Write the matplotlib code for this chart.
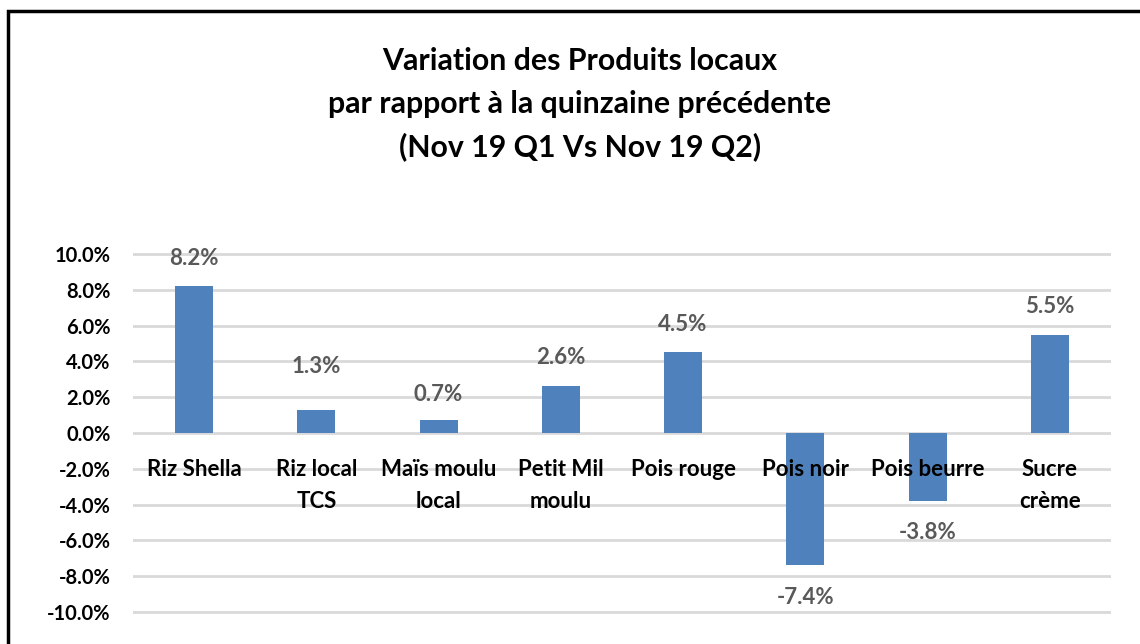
import matplotlib.pyplot as plt
import matplotlib.patches as patches
from matplotlib.ticker import FuncFormatter

categories = ["Riz Shella", "Riz local\nTCS", "Maïs moulu\nlocal", "Petit Mil\nmoulu",
              "Pois rouge", "Pois noir", "Pois beurre", "Sucre\ncrème"]
values = [8.2, 1.3, 0.7, 2.6, 4.5, -7.4, -3.8, 5.5]
yticks = [-10, -8, -6, -4, -2, 0, 2, 4, 6, 8, 10]
title_lines = ["Variation des Produits locaux",
               "par rapport à la quinzaine précédente",
               "(Nov 19 Q1 Vs Nov 19 Q2)"]

plt.rcParams["font.family"] = ["Lato", "DejaVu Sans"]
plt.rcParams["font.weight"] = "bold"

W, H = 1140, 644
fig = plt.figure(figsize=(W / 100, H / 100), dpi=100)

# frame: left and top edge visible, rest cut off by the image
fig.patches.append(patches.Rectangle((8.0 / W, -0.2), 2, 1.2 - 11.5 / H,
                                     transform=fig.transFigure, fill=False,
                                     edgecolor="black", linewidth=2.5))

ppu = 17.9  # pixels per percent
lim = 10.3
bottom_px = 612 + (lim - 10) * ppu
top_px = 254 - (lim - 10) * ppu
ax = fig.add_axes([133 / W, 1 - bottom_px / H, 978 / W, (bottom_px - top_px) / H])

x = list(range(len(categories)))
ax.bar(x, values, width=0.31, color="#4F81BD", zorder=3)
ax.set_xlim(-0.5, len(categories) - 0.5)
ax.set_ylim(-lim, lim)
ax.set_yticks(yticks)
ax.yaxis.set_major_formatter(FuncFormatter(lambda v, p: f"{v:.1f}%"))
ax.tick_params(axis="y", length=0, pad=16, labelsize=14.5, labelcolor="black")
ax.set_xticks([])
ax.grid(axis="y", color="#D9D9D9", linewidth=2, zorder=0)
for s in ax.spines.values():
    s.set_visible(False)

# category labels drawn next to the zero line
for xi, name in zip(x, categories):
    ax.annotate(name, (xi, 0), xytext=(0, -19), textcoords="offset points",
                ha="center", va="top", fontsize=16, color="black",
                linespacing=1.6, zorder=4)

label_offsets = [20, 31, 19, 21, 20, 23, 23, 20]
for xi, v, off in zip(x, values, label_offsets):
    if v >= 0:
        ax.annotate(f"{v:.1f}%", (xi, v), xytext=(0, off), textcoords="offset points",
                    ha="center", va="center", fontsize=16, color="#595959", zorder=4)
    else:
        ax.annotate(f"{v:.1f}%", (xi, v), xytext=(0, -off), textcoords="offset points",
                    ha="center", va="center", fontsize=16, color="#595959", zorder=4)

for line, base in zip(title_lines, [70, 113, 156]):
    fig.text(580 / W, 1 - base / H, line, ha="center", va="baseline",
             fontsize=21.8, color="black")

fig.savefig("out.png", dpi=100)
